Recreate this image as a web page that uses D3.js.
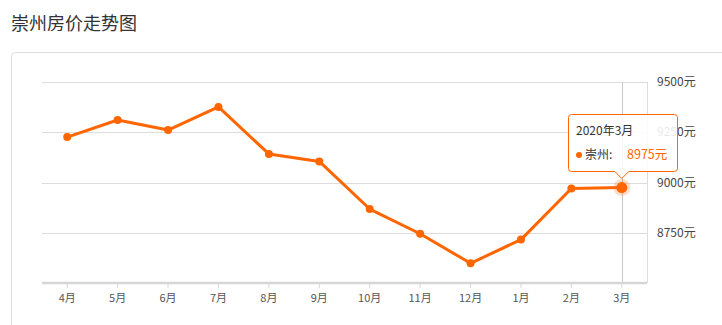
<!DOCTYPE html>
<html>
<head>
<meta charset="utf-8">
<script src="https://cdn.jsdelivr.net/npm/d3@7"></script>
<style>
  body { margin: 0; background: #fff; }
  svg { display: block; font-family: "Noto Sans CJK SC", "Noto Sans", sans-serif; }
</style>
</head>
<body>
<svg id="chart" width="722" height="325"></svg>
<script>
const title = '崇州房价走势图';
const cityName = '崇州';
const months = ['4月', '5月', '6月', '7月', '8月', '9月', '10月', '11月', '12月', '1月', '2月', '3月'];
const prices = [9226, 9311, 9261, 9376, 9142, 9105, 8868, 8745, 8598, 8716, 8970, 8975];
const yTicks = [8750, 9000, 9250, 9500];
const tipLabel = '2020年3月';
const tipIndex = 11;

const orange = '#ff6600';
const svg = d3.select('#chart');

// title + card
svg.append('text')
  .attr('x', 11)
  .attr('y', 30)
  .attr('fill', '#333')
  .style('font-size', '18px')
  .text(title);

svg.append('rect')
  .attr('x', 11.5)
  .attr('y', 52.5)
  .attr('width', 740)
  .attr('height', 300)
  .attr('rx', 4)
  .attr('fill', '#fff')
  .attr('stroke', '#ddd');

const x = d3.scaleBand()
  .domain(months)
  .range([42, 647]);
const y = d3.scaleLinear()
  .domain([8500, 9500])
  .range([283, 82]);
const cx = (m) => x(m) + x.bandwidth() / 2;

// grid
const grid = svg.append('g');
grid.selectAll('line')
  .data(yTicks)
  .enter()
  .append('line')
  .attr('x1', 42)
  .attr('x2', 647)
  .attr('y1', (d) => Math.round(y(d)) + 0.5)
  .attr('y2', (d) => Math.round(y(d)) + 0.5)
  .attr('stroke', '#dcdcdc');

// right border of plot
svg.append('line')
  .attr('x1', 647.5).attr('x2', 647.5)
  .attr('y1', y(9500)).attr('y2', y(8500))
  .attr('stroke', '#dcdcdc');

// y labels on the right
svg.append('g')
  .selectAll('text')
  .data(yTicks)
  .enter()
  .append('text')
  .attr('x', 657)
  .attr('y', (d) => y(d))
  .attr('dy', '0.35em')
  .attr('fill', '#444')
  .style('font-size', '12px')
  .text((d) => `${d}元`);

// crosshair
svg.append('line')
  .attr('x1', Math.round(cx(months[tipIndex])) + 0.5)
  .attr('x2', Math.round(cx(months[tipIndex])) + 0.5)
  .attr('y1', y(9500))
  .attr('y2', y(8500))
  .attr('stroke', '#c8c8c8');

// x axis
const xAxis = svg.append('g')
  .attr('transform', `translate(0,${y(8500)})`)
  .call(d3.axisBottom(x).tickSize(5).tickPadding(6));
xAxis.select('.domain')
  .attr('d', 'M42,0H647')
  .attr('stroke', '#d6d6d6')
  .attr('stroke-width', 2.5);
xAxis.selectAll('.tick line').attr('stroke', '#d6d6d6');
xAxis.selectAll('.tick text')
  .attr('fill', '#555')
  .style('font-size', '11px')
  .style('font-family', '"Noto Sans CJK SC", sans-serif');

// line + points
const line = d3.line()
  .x((d, i) => cx(months[i]))
  .y((d) => y(d));

svg.append('path')
  .datum(prices)
  .attr('d', line)
  .attr('fill', 'none')
  .attr('stroke', orange)
  .attr('stroke-width', 3)
  .attr('stroke-linejoin', 'round');

svg.append('g')
  .selectAll('circle')
  .data(prices)
  .enter()
  .append('circle')
  .attr('cx', (d, i) => cx(months[i]))
  .attr('cy', (d) => y(d))
  .attr('r', (d, i) => (i === tipIndex ? 0 : 4))
  .attr('fill', orange);

// highlighted point
const hx = cx(months[tipIndex]);
const hy = y(prices[tipIndex]);
svg.append('circle')
  .attr('cx', hx).attr('cy', hy).attr('r', 8.5)
  .attr('fill', orange).attr('fill-opacity', 0.22);
svg.append('circle')
  .attr('cx', hx).attr('cy', hy).attr('r', 5.5)
  .attr('fill', orange);

// tooltip
const tl = 568.5;
const tr = 677.5;
const tt = 114.5;
const tb = 171.5;
const r = 3;
const tip = d3.path();
tip.moveTo(tl + r, tt);
tip.lineTo(tr - r, tt);
tip.arcTo(tr, tt, tr, tt + r, r);
tip.lineTo(tr, tb - r);
tip.arcTo(tr, tb, tr - r, tb, r);
tip.lineTo(hx + 7, tb);
tip.lineTo(hx, tb + 7);
tip.lineTo(hx - 7, tb);
tip.lineTo(tl + r, tb);
tip.arcTo(tl, tb, tl, tb - r, r);
tip.lineTo(tl, tt + r);
tip.arcTo(tl, tt, tl + r, tt, r);
tip.closePath();

svg.append('path')
  .attr('d', tip.toString())
  .attr('fill', '#fff')
  .attr('fill-opacity', 0.88)
  .attr('stroke', orange);

svg.append('text')
  .attr('x', 576)
  .attr('y', 135)
  .attr('fill', '#333')
  .style('font-size', '12px')
  .text(tipLabel);

svg.append('circle')
  .attr('cx', 579).attr('cy', 155).attr('r', 3)
  .attr('fill', orange);

svg.append('text')
  .attr('x', 585)
  .attr('y', 159)
  .attr('fill', '#333')
  .style('font-size', '12px')
  .text(`${cityName}:`);

svg.append('text')
  .attr('x', 627)
  .attr('y', 159)
  .attr('fill', orange)
  .style('font-size', '12.5px')
  .text(`${prices[tipIndex]}元`);
</script>
</body>
</html>
